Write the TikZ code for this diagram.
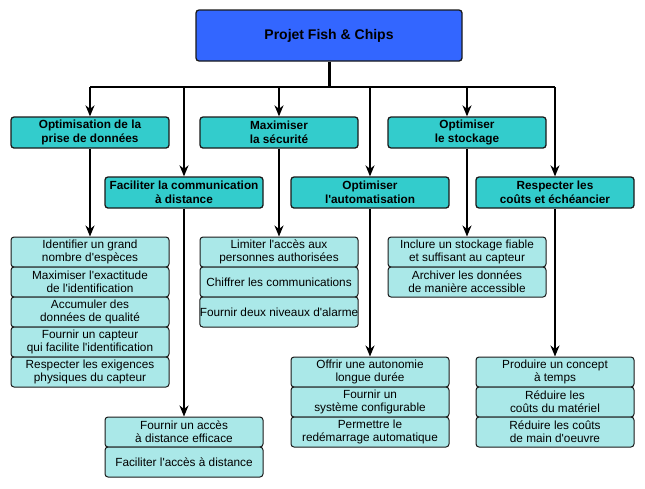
\documentclass[tikz,border=0pt]{standalone}
\usepackage{fontspec}
\setmainfont{Liberation Sans}
\usetikzlibrary{arrows.meta}
\definecolor{rootblue}{HTML}{3366FF}
\definecolor{catcyan}{HTML}{33CCCC}
\definecolor{leafcyan}{HTML}{AAE8E8}
\definecolor{edge}{HTML}{1A1A1A}
\newcommand{\apo}{\textquotesingle}
\tikzset{
  rootbox/.style={draw=edge, line width=1.3pt, rounded corners=3pt, fill=rootblue,
    minimum width=266pt, minimum height=51pt, inner sep=0pt, align=center,
    font=\bfseries\fontsize{14}{16}\selectfont},
  catbox/.style={draw=edge, line width=1.3pt, rounded corners=3pt, fill=catcyan,
    minimum width=158pt, minimum height=31pt, inner sep=0pt, align=center,
    font=\bfseries\fontsize{11.8}{14}\selectfont},
  leafbox/.style={draw=edge, line width=1pt, rounded corners=3pt, fill=leafcyan,
    minimum width=158pt, minimum height=30pt, inner sep=0pt, align=center,
    font=\fontsize{11.8}{13.3}\selectfont},
  conn/.style={draw=black, line width=1.5pt},
  arr/.style={conn, -{Stealth[length=11pt,width=9pt,inset=3.5pt]}},
}
\begin{document}
\begin{tikzpicture}[x=1pt,y=-1pt]
\useasboundingbox (0,0) rectangle (645,488);
% root
\node[rootbox] (root) at (329,35.5) {Projet Fish \& Chips};
\coordinate (bus) at (329,87);
% categories
\node[catbox] (opt) at (90,132.5) {Optimisation de la\\prise de données};
\node[catbox] (max) at (279,132.5) {Maximiser\\la sécurité};
\node[catbox] (sto) at (467,132.5) {Optimiser\\le stockage};
\node[catbox] (fac) at (184,192.5) {Faciliter la communication\\à distance};
\node[catbox] (aut) at (370,192.5) {Optimiser\\l\apo automatisation};
\node[catbox] (res) at (555,192.5) {Respecter les\\coûts et échéancier};
% leaves: opt
\node[leafbox] (opt1) at (90,252) {Identifier un grand\\nombre d\apo espèces};
\node[leafbox] (opt2) at (90,282) {Maximiser l\apo exactitude\\de l\apo identification};
\node[leafbox] (opt3) at (90,312) {Accumuler des\\données de qualité};
\node[leafbox] (opt4) at (90,342) {Fournir un capteur\\qui facilite l\apo identification};
\node[leafbox] (opt5) at (90,372) {Respecter les exigences\\physiques du capteur};
% leaves: max
\node[leafbox] (max1) at (279,252) {Limiter l\apo accès aux\\personnes authorisées};
\node[leafbox] (max2) at (279,282) {Chiffrer les communications};
\node[leafbox] (max3) at (279,312) {Fournir deux niveaux d\apo alarme};
% leaves: sto
\node[leafbox] (sto1) at (467,252) {Inclure un stockage fiable\\et suffisant au capteur};
\node[leafbox] (sto2) at (467,282) {Archiver les données\\de manière accessible};
% leaves: fac
\node[leafbox] (fac1) at (184,432) {Fournir un accès\\à distance efficace};
\node[leafbox] (fac2) at (184,462) {Faciliter l\apo accès à distance};
% leaves: aut
\node[leafbox] (aut1) at (370,372) {Offrir une autonomie\\longue durée};
\node[leafbox] (aut2) at (370,402) {Fournir un\\système configurable};
\node[leafbox] (aut3) at (370,432) {Permettre le\\redémarrage automatique};
% leaves: res
\node[leafbox] (res1) at (555,372) {Produire un concept\\à temps};
\node[leafbox] (res2) at (555,402) {Réduire les\\coûts du matériel};
\node[leafbox] (res3) at (555,432) {Réduire les coûts\\de main d\apo oeuvre};
% connectors
\draw[conn, line width=3pt] (root.south) -- (bus);
\draw[conn, line width=1.3pt] (bus -| opt.north) -- (bus -| res.north);
\foreach \n in {opt,fac,max,aut,sto,res}{
  \draw[arr] (bus -| \n.north) -- (\n.north);
}
\draw[arr] (opt.south) -- (opt1.north);
\draw[arr] (max.south) -- (max1.north);
\draw[arr] (sto.south) -- (sto1.north);
\draw[arr] (fac.south) -- (fac1.north);
\draw[arr] (aut.south) -- (aut1.north);
\draw[arr] (res.south) -- (res1.north);
\end{tikzpicture}
\end{document}
